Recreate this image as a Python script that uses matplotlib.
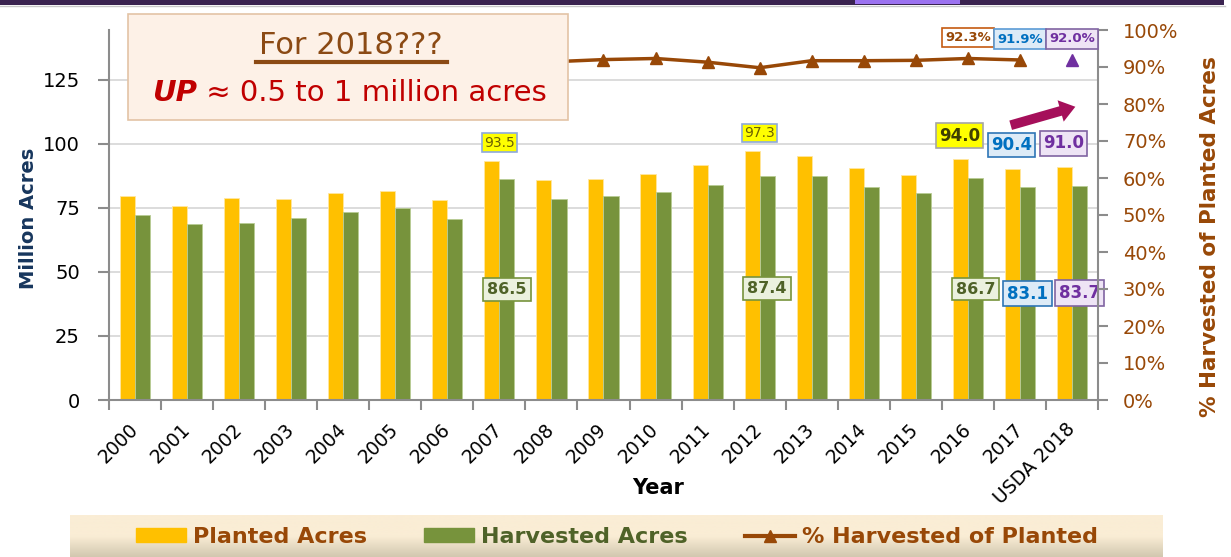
import numpy as np
import matplotlib.pyplot as plt
from matplotlib.patches import Rectangle, Patch
from matplotlib.lines import Line2D
from matplotlib.text import Annotation
from matplotlib.ticker import PercentFormatter

plt.rcParams['font.family'] = 'DejaVu Sans'

# data (million acres)
years = ['2000', '2001', '2002', '2003', '2004', '2005', '2006', '2007', '2008', '2009',
         '2010', '2011', '2012', '2013', '2014', '2015', '2016', '2017', 'USDA 2018']
planted = [79.6, 75.7, 78.9, 78.6, 80.9, 81.8, 78.3, 93.5, 86.0, 86.4,
           88.2, 91.9, 97.3, 95.4, 90.6, 88.0, 94.0, 90.4, 91.0]
harvested = [72.4, 68.8, 69.3, 70.9, 73.6, 75.1, 70.6, 86.5, 78.6, 79.5,
             81.4, 83.9, 87.4, 87.5, 83.1, 80.8, 86.7, 83.1, 83.7]
# % harvested of planted, 2000-2017, plus the USDA 2018 estimate
pct_harvested = [91.0, 90.9, 87.8, 90.2, 91.0, 91.8, 90.2, 92.5, 91.4, 92.0,
                 92.3, 91.3, 89.8, 91.7, 91.7, 91.8, 92.3, 91.9]
pct_2018 = 92.0

# colours
c_plant = '#FFC000'
c_harv = '#77933C'
c_line = '#984807'
c_gray = '#8C8C8C'

W, H = 1231, 557
fig = plt.figure(figsize=(W / 100, H / 100), dpi=100)
ax = fig.add_axes([109 / W, 157 / H, 989 / W, 370 / H])
ax2 = ax.twinx()

x = np.arange(len(years))
bw = 0.29
ax.bar(x - bw / 2, planted, bw, color=c_plant, edgecolor='#FFE7A0', linewidth=0.6, zorder=2)
ax.bar(x + bw / 2, harvested, bw, color=c_harv, edgecolor='#B8CC94', linewidth=0.6, zorder=2)

ax.set_xlim(-0.5, len(years) - 0.5)
ax.set_ylim(0, 144.5)
ax.set_yticks([0, 25, 50, 75, 100, 125])
for v in [25, 50, 75, 100, 125]:
    ax.axhline(v, color='#D2D2D2', lw=1.1, zorder=1)

ax.set_xticks(np.arange(-0.5, len(years)), minor=False)
ax.set_xticklabels([])
ax.set_xticks(x, minor=True)
ax.set_xticklabels(years, minor=True, rotation=45, ha='right', va='center',
                   rotation_mode='anchor', fontsize=13.5)
ax.tick_params(axis='x', which='major', length=7, width=1.5, color=c_gray)
ax.tick_params(axis='x', which='minor', length=0, pad=19)
ax.tick_params(axis='y', length=8, width=1.5, color=c_gray, labelsize=14, pad=13)

for s in ['top', 'right']:
    ax.spines[s].set_visible(False)
for s in ['left', 'bottom']:
    ax.spines[s].set_color(c_gray)
    ax.spines[s].set_linewidth(1.5)

# percentage axis
ax2.set_ylim(0, 1.0)
ax2.set_yticks(np.arange(0, 1.01, 0.1))
ax2.yaxis.set_major_formatter(PercentFormatter(1.0, decimals=0))
ax2.tick_params(axis='y', length=7, width=1.5, color=c_gray, labelsize=14,
                labelcolor=c_line, pad=11)
for s in ['top', 'left', 'bottom']:
    ax2.spines[s].set_visible(False)
ax2.spines['right'].set_color(c_gray)
ax2.spines['right'].set_linewidth(1.5)

pct = np.array(pct_harvested) / 100
ax2.plot(x[:len(pct)], pct, color=c_line, lw=2.5, marker='^', markersize=9, zorder=3)
ax2.plot([x[-1]], [pct_2018 / 100], linestyle='none', marker='^', markersize=9,
         color='#7030A0', zorder=3)

# data labels
def box_label(axis, txt, xy, off, size, tc, fc, ec, bold=True, pad=0.15):
    axis.annotate(txt, xy=xy, xytext=off, textcoords='offset points',
                  ha='center', va='center', fontsize=size, color=tc,
                  fontweight='bold' if bold else 'normal', zorder=5,
                  bbox=dict(boxstyle=f'square,pad={pad}', fc=fc, ec=ec, lw=1.2))

for i in [7, 12]:
    box_label(ax, f'{planted[i]:.1f}', (i, planted[i]), (0, 13), 10, '#6B6100',
              '#FFFF00', '#8EA9DB', bold=False)
box_label(ax, f'{planted[16]:.1f}', (16, planted[16]), (-6, 17), 12, '#3F3F00', '#FFFF00', '#A6A6A6', pad=0.2)
box_label(ax, f'{planted[17]:.1f}', (17, planted[17]), (-6, 17), 12, '#0070C0', '#DDEBF7', '#2E75B6', pad=0.2)
box_label(ax, f'{planted[18]:.1f}', (18, planted[18]), (-6, 17), 12, '#7030A0', '#EEE4F5', '#8064A2', pad=0.2)

for i in [7, 12, 16]:
    box_label(ax, f'{harvested[i]:.1f}', (i + bw / 2, harvested[i] / 2), (0, 0), 11.5,
              '#4F6228', '#EBF1DE', '#77933C', pad=0.25)
box_label(ax, f'{harvested[17]:.1f}', (17 + bw / 2, harvested[17] / 2), (0, 0), 12,
          '#0070C0', '#DDEBF7', '#2E75B6', pad=0.22)
box_label(ax, f'{harvested[18]:.1f}', (18 + bw / 2, harvested[18] / 2), (0, 0), 12,
          '#7030A0', '#EEE4F5', '#8064A2', pad=0.22)

box_label(ax2, f'{pct_harvested[16]:.1f}%', (16, pct_harvested[16] / 100), (0, 15), 9.5,
          c_line, 'white', '#C55A11', pad=0.25)
box_label(ax2, f'{pct_harvested[17]:.1f}%', (17, pct_harvested[17] / 100), (0, 15), 9.5,
          '#0070C0', '#DDEBF7', '#5B9BD5', pad=0.25)
box_label(ax2, f'{pct_2018:.1f}%', (18, pct_2018 / 100), (0, 15), 9.5,
          '#7030A0', '#EEE4F5', '#8064A2', pad=0.25)

# axis titles
fig.text(28 / W, 1 - 218 / H, 'Million Acres', rotation=90, ha='center', va='center',
         fontsize=14, fontweight='bold', color='#17365D')
fig.text(1210 / W, 1 - 237 / H, '% Harvested of Planted Acres', rotation=90,
         ha='center', va='center', fontsize=15.5, fontweight='bold', color=c_line)
fig.text(658 / W, 1 - 488 / H, 'Year', ha='center', va='center', fontsize=15,
         fontweight='bold', color='black')

# callout box
fig.patches.append(Rectangle((128 / W, 1 - 120 / H), 440 / W, 106 / H, transform=fig.transFigure,
                             facecolor='#FDF1E7', edgecolor='#E3C3A5', lw=1.2, zorder=4))
fig.text(351 / W, 1 - 46 / H, 'For 2018???', ha='center', va='center', fontsize=22,
         color='#8B4A14', zorder=6)
fig.lines.append(Line2D([256 / W, 447 / W], [1 - 62 / H, 1 - 62 / H], transform=fig.transFigure,
                        color='#8B4A14', lw=3, zorder=6))
up = fig.text(152 / W, 1 - 93 / H, 'UP', ha='left', va='center', fontsize=21,
              fontweight='bold', fontstyle='italic', color='#C00000', zorder=6)
rest = Annotation(' \u2248 0.5 to 1 million acres', xy=(1, 0.5), xycoords=up,
                  ha='left', va='center', fontsize=21, color='#C00000')
rest.set_zorder(6)
fig.add_artist(rest)

# arrow
arrow = Annotation('', xy=(1078 / W, 1 - 106 / H), xytext=(1008 / W, 1 - 126 / H),
                   xycoords='figure fraction', textcoords='figure fraction',
                   arrowprops=dict(arrowstyle='simple,head_width=0.8,head_length=0.55,tail_width=0.35',
                                   mutation_scale=20, color='#A50F5A', lw=0))
arrow.set_zorder(6)
fig.add_artist(arrow)

# legend band with gradient
lax = fig.add_axes([70 / W, 0, 1093 / W, 42 / H])
grad = np.linspace(0, 1, 50)[:, None]
top_c = np.array([250, 237, 213]) / 255
bot_c = np.array([210, 200, 176]) / 255
wt = np.clip((grad - 0.5) / 0.5, 0, 1)
img = top_c * (1 - wt[..., None]) + bot_c * wt[..., None]
lax.imshow(np.repeat(img, 2, axis=1), aspect='auto', extent=[0, 1, 0, 1])
lax.axis('off')

handles = [Patch(color=c_plant), Patch(color=c_harv),
           Line2D([], [], color=c_line, lw=3, marker='^', markersize=8)]
leg = fig.legend(handles, ['Planted Acres', 'Harvested Acres', '% Harvested of Planted'],
                 loc='center', bbox_to_anchor=(617 / W, 1 - 537 / H), ncol=3, frameon=False,
                 prop={'size': 16, 'weight': 'bold'}, handlelength=2.25, handleheight=0.6,
                 handletextpad=0.3, columnspacing=2.6)
for t, c in zip(leg.get_texts(), [c_line, '#4F6228', c_line]):
    t.set_color(c)

# slide header strip
fig.patches.append(Rectangle((0, 1 - 5 / H), 1224 / W, 5 / H, transform=fig.transFigure,
                             facecolor='#3A2350', edgecolor='none', zorder=4))
fig.patches.append(Rectangle((855 / W, 1 - 4 / H), 105 / W, 4 / H, transform=fig.transFigure,
                             facecolor='#9B72F0', edgecolor='none', zorder=5))
fig.lines.append(Line2D([0, 1225 / W], [1 - 6 / H, 1 - 6 / H], transform=fig.transFigure,
                        color='#C8C8C8', lw=1, zorder=4))

fig.savefig('out.png', dpi=100)
